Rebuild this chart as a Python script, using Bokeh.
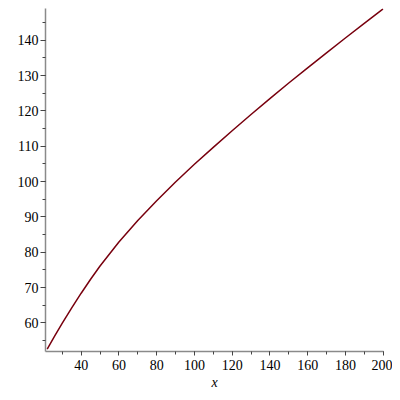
from bokeh.plotting import figure
from bokeh.models import Range1d, SingleIntervalTicker, ColumnDataSource
from bokeh.embed import file_html
from bokeh.resources import INLINE

# values
x_vals = [22, 26, 30, 35, 40, 45, 50, 60, 70, 80, 90, 100, 110, 120, 130, 140, 150, 160, 170, 180, 190, 200]
y_vals = [52.6, 56.3, 59.9, 64.25, 68.4, 72.35, 76.1, 82.9, 89.0, 94.6, 99.9, 104.9, 109.7, 114.4, 119.0,
          123.5, 127.9, 132.2, 136.45, 140.65, 144.8, 148.9]
x_label = "x"

src = ColumnDataSource(dict(x=x_vals, y=y_vals))

p = figure(width=392, height=392, output_backend="svg", toolbar_location=None,
           x_range=Range1d(21.1, 200.2), y_range=Range1d(51.9, 149.0),
           min_border_left=45, min_border_right=9, min_border_top=8, min_border_bottom=34)
p.outline_line_color = None
p.background_fill_color = "white"
p.border_fill_color = "white"
p.xgrid.visible = False
p.ygrid.visible = False

p.line("x", "y", source=src, line_color="#78000E", line_width=1.5, line_join="round")

serif = "Liberation Serif"
p.xaxis.ticker = SingleIntervalTicker(interval=20, num_minor_ticks=2)
p.yaxis.ticker = SingleIntervalTicker(interval=10, num_minor_ticks=2)
for ax in (p.xaxis, p.yaxis):
    ax.axis_line_color = "#8a8a8a"
    ax.axis_line_width = 1.5
    ax.major_tick_line_color = "#444444"
    ax.minor_tick_line_color = "#444444"
    ax.major_tick_in = 0
    ax.minor_tick_in = 0
    ax.major_label_text_font = serif
    ax.major_label_text_font_size = "14px"
    ax.major_label_text_font_style = "normal"
    ax.major_label_text_color = "black"
p.yaxis.major_tick_out = 5
p.yaxis.minor_tick_out = 3
p.yaxis.major_label_standoff = 2
p.xaxis.major_tick_out = 4
p.xaxis.minor_tick_out = 3
p.xaxis.major_label_standoff = 4
p.xaxis.axis_label = x_label
p.xaxis.axis_label_text_font = serif
p.xaxis.axis_label_text_font_style = "italic"
p.xaxis.axis_label_text_font_size = "14px"
p.xaxis.axis_label_standoff = 2
p.xaxis.axis_label_text_color = "black"

open("out.html", "w").write(file_html(p, INLINE))
